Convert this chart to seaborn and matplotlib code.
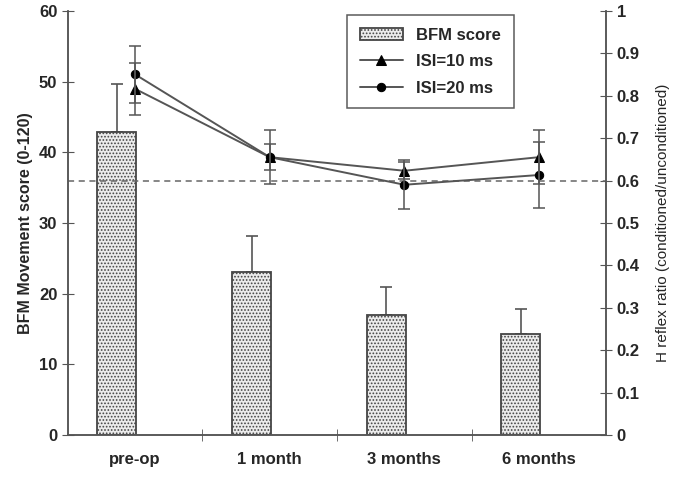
import numpy as np
import pandas as pd
import seaborn as sns
import matplotlib.pyplot as plt

# data
periods = ['pre-op', '1 month', '3 months', '6 months']
bfm_score = [42.8, 23.0, 17.0, 14.3]
bfm_err = [6.8, 5.1, 4.0, 3.5]
isi10 = [0.816, 0.655, 0.623, 0.655]
isi10_err = [0.062, 0.063, 0.02, 0.064]
isi20 = [0.850, 0.655, 0.590, 0.613]
isi20_err = [0.067, 0.031, 0.058, 0.077]

sns.set_style('ticks')
plt.rcParams['font.family'] = ['Liberation Sans', 'DejaVu Sans']
plt.rcParams['font.weight'] = 'bold'
plt.rcParams['hatch.color'] = '#a8a8a8'
plt.rcParams['hatch.linewidth'] = 0.8

fig = plt.figure(figsize=(6.85, 4.9), dpi=100)
ax = fig.add_axes([0.099, 0.112, 0.786, 0.866])

df = pd.DataFrame({'period': periods, 'bfm': bfm_score})
sns.barplot(data=df, x='period', y='bfm', ax=ax, width=0.29,
            color='#ebebeb', edgecolor='#444444', linewidth=1.3, zorder=2)
for p in ax.patches:
    p.set_hatch('.....')
    p.set_x(p.get_x() - 0.135)
if ax.get_legend() is not None:
    ax.get_legend().remove()

xpos = np.arange(len(periods))
ax.errorbar(xpos - 0.135, bfm_score, yerr=[np.zeros(4), bfm_err], fmt='none',
            ecolor='#555555', elinewidth=1.2, capsize=4, capthick=1.2, zorder=1)

ax.set_xlim(-0.5, 3.5)
ax.set_ylim(0, 60)
ax.set_yticks(range(0, 61, 10))
ax.set_xticks(xpos)
ax.set_xticklabels(periods)
ax.set_xticks([0.5, 1.5, 2.5], minor=True)
ax.tick_params(axis='x', which='major', length=0, pad=12, labelsize=12)
ax.tick_params(axis='x', which='minor', length=8, direction='inout', color='#555555')
ax.tick_params(axis='y', length=8, direction='inout', color='#555555', labelsize=12)
ax.set_xlabel('')
ax.set_ylabel('BFM Movement score (0-120)', fontsize=11.5, fontweight='bold', labelpad=4)

ax2 = ax.twinx()
ax2.axhline(0.6, color='#666666', linestyle=(0, (4, 3)), linewidth=1.1, zorder=1)
sns.lineplot(x=xpos, y=isi10, ax=ax2, color='#555555', linewidth=1.4,
             marker='^', markersize=7, markerfacecolor='black',
             markeredgecolor='black', legend=False)
sns.lineplot(x=xpos, y=isi20, ax=ax2, color='#555555', linewidth=1.4,
             marker='o', markersize=6, markerfacecolor='black',
             markeredgecolor='black', legend=False)
ax2.errorbar(xpos, isi10, yerr=isi10_err, fmt='none', ecolor='#555555',
             elinewidth=1.1, capsize=4, capthick=1.1)
ax2.errorbar(xpos, isi20, yerr=isi20_err, fmt='none', ecolor='#555555',
             elinewidth=1.1, capsize=4, capthick=1.1)
ax2.set_ylim(0, 1)
ax2.set_yticks(np.arange(0, 1.01, 0.1))
ax2.set_yticklabels(['0', '0.1', '0.2', '0.3', '0.4', '0.5', '0.6', '0.7', '0.8', '0.9', '1'])
ax2.tick_params(axis='y', length=8, direction='inout', color='#555555', labelsize=12)
ax2.set_ylabel('H reflex ratio (conditioned/unconditioned)', fontsize=11,
               fontweight='normal', labelpad=12)

for a in (ax, ax2):
    a.spines['top'].set_visible(False)
    for s in ('left', 'right', 'bottom'):
        a.spines[s].set_color('#555555')
        a.spines[s].set_linewidth(1.1)

handles = [ax.patches[0], ax2.get_lines()[1], ax2.get_lines()[2]]
leg = ax2.legend(handles, ['BFM score', 'ISI=10 ms', 'ISI=20 ms'],
                 loc='upper left', bbox_to_anchor=(0.519, 0.99), fontsize=12,
                 frameon=True, fancybox=False, edgecolor='#333333',
                 labelspacing=0.7, handlelength=2.6, borderpad=0.75,
                 borderaxespad=0)
leg.get_frame().set_linewidth(1.1)

plt.savefig('out.png', dpi=100)
plt.close()
